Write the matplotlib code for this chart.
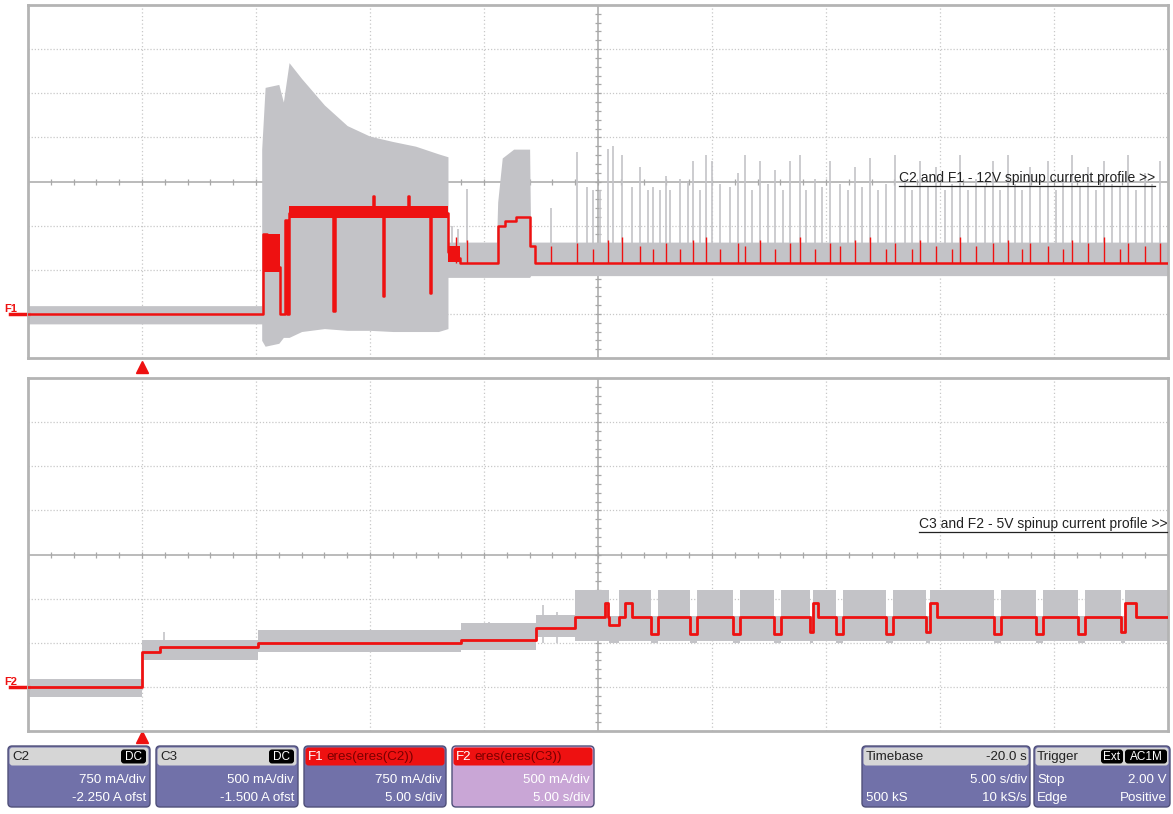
import numpy as np
import matplotlib.pyplot as plt
from matplotlib.patches import FancyBboxPatch

plt.rcParams['font.family'] = ['Liberation Sans', 'DejaVu Sans']

# ---------------- data (time in s, current in A) ----------------
# C2 / F1 : 12V supply current
top_env_t  = [-5, 5.25, 5.25, 5.4, 6.0, 6.2, 6.45, 7.0, 8.0, 9.0, 10.0, 11.0, 12.0, 13.0,
              13.42, 13.42, 15.55, 15.6, 15.8, 16.3, 17.0, 17.05, 45]
top_env_hi = [0.14, 0.14, 2.8, 3.85, 3.9, 3.6, 4.27, 4.0, 3.55, 3.2, 3.02, 2.93, 2.85, 2.72,
              2.67, 1.22, 1.22, 1.9, 2.65, 2.8, 2.8, 1.22, 1.22]
top_env_lo = [-0.17, -0.17, -0.45, -0.55, -0.5, -0.4, -0.4, -0.3, -0.25, -0.28, -0.28, -0.3, -0.3, -0.3,
              -0.25, 0.62, 0.62, 0.62, 0.62, 0.62, 0.62, 0.65, 0.65]

top_gspk_t = [13.60, 13.86, 14.25, 17.94, 19.08, 19.52, 19.78, 20.09, 20.44, 20.66, 21.05, 21.49,
              21.84, 22.19, 22.41, 22.72, 22.98, 23.16, 23.60, 23.95, 24.17, 24.47, 24.74, 25.00,
              25.35, 25.79, 26.14, 26.45, 26.75, 27.11, 27.46, 27.76, 28.11, 28.42, 28.86, 29.12,
              29.52, 29.82, 30.18, 30.61, 30.96, 31.27, 31.58, 31.93, 32.28, 32.63, 33.03, 33.46,
              33.77, 34.12, 34.47, 34.82, 35.22, 35.53, 35.88, 36.23, 36.58, 36.97, 37.32, 37.63,
              37.98, 38.29, 38.60, 38.95, 39.39, 39.74, 40.09, 40.39, 40.79, 41.14, 41.49, 41.84,
              42.19, 42.54, 42.89, 43.25, 43.60, 43.99, 44.30, 44.65]
top_gspk_hi = [1.5, 1.45, 2.13, 1.8, 2.75, 2.15, 2.1, 2.1, 2.8, 2.85, 2.7, 2.15,
               2.5, 2.1, 2.15, 2.1, 2.35, 2.1, 2.3, 2.25, 2.6, 2.1, 2.7, 2.6,
               2.2, 2.15, 2.4, 2.7, 2.1, 2.6, 2.2, 2.45, 2.1, 2.6, 2.7, 2.1,
               2.3, 2.15, 2.6, 2.2, 2.1, 2.5, 2.15, 2.65, 2.1, 2.2, 2.7, 2.3,
               2.1, 2.6, 2.15, 2.5, 2.1, 2.2, 2.7, 2.1, 2.3, 2.15, 2.6, 2.1,
               2.7, 2.2, 2.1, 2.5, 2.15, 2.6, 2.1, 2.3, 2.7, 2.15, 2.5, 2.1,
               2.6, 2.2, 2.15, 2.7, 2.1, 2.4, 2.2, 2.6]

top_red_t = [-5, 5.31, 5.5, 5.75, 6.05, 6.27, 6.36, 6.45, 13.42, 13.62, 13.95, 15.61, 15.9, 16.4, 17.02, 17.24]
top_red_i = [0.0, 1.35, 1.05, 0.8, 0.0, 1.6, 0.0, 1.72, 1.05, 0.95, 0.87, 1.5, 1.58, 1.65, 1.15, 0.87]
top_ev_t0 = [8.38, 10.13, 10.57, 11.67, 12.63]
top_ev_t1 = [8.45, 10.19, 10.63, 11.73, 12.69]
top_ev_i  = [0.05, 2.0, 0.3, 2.0, 0.35]
top_rband_t0 = [5.31, 6.45, 13.42]
top_rband_t1 = [6.05, 13.42, 13.95]
top_rband_lo = [0.72, 1.63, 0.88]
top_rband_hi = [1.35, 1.84, 1.15]

top_rspk_t = [13.75, 14.25, 17.94, 19.08, 19.78, 20.44, 21.05, 21.84, 22.41, 22.98,
              23.60, 24.17, 24.74, 25.35, 26.14, 26.45, 27.11, 27.76, 28.42, 28.86,
              29.52, 30.18, 30.61, 31.27, 31.93, 32.63, 33.03, 33.77, 34.12, 34.82,
              35.53, 35.88, 36.58, 37.32, 37.98, 38.60, 38.95, 39.74, 40.39, 40.79,
              41.49, 42.19, 42.89, 43.25, 43.99, 44.65]
top_rspk_hi = [1.3, 1.25, 1.15, 1.2, 1.1, 1.25, 1.3, 1.15, 1.1, 1.2,
               1.1, 1.25, 1.3, 1.1, 1.2, 1.15, 1.25, 1.1, 1.2, 1.3,
               1.1, 1.2, 1.15, 1.25, 1.3, 1.1, 1.2, 1.1, 1.25, 1.15,
               1.1, 1.3, 1.15, 1.2, 1.25, 1.1, 1.2, 1.15, 1.1, 1.25,
               1.2, 1.3, 1.1, 1.2, 1.15, 1.2]

# C3 / F2 : 5V supply current
bot_red_t = [-5, 0, 0.8, 5.1, 14.0, 17.3, 19.0]
bot_red_i = [0.0, 0.40, 0.45, 0.50, 0.53, 0.67, 0.79]
bot_env_t = [-5, 0, 5.1, 14.0, 17.3, 19.0]
bot_env_hi = [0.09, 0.53, 0.64, 0.72, 0.82, 1.10]
bot_env_lo = [-0.11, 0.30, 0.40, 0.42, 0.57, 0.52]
bot_dip_t0 = [20.50, 22.32, 24.04, 25.92, 27.72, 29.28, 30.44, 32.63, 34.40, 37.37, 39.21, 41.05, 42.94]
bot_dip_t1 = [20.90, 22.62, 24.34, 26.22, 28.02, 29.43, 30.74, 32.93, 34.56, 37.67, 39.51, 41.35, 43.11]
bot_dip_i  = [0.70, 0.60, 0.60, 0.60, 0.60, 0.62, 0.60, 0.60, 0.62, 0.60, 0.60, 0.60, 0.62]
bot_bump_t0 = [20.30, 21.18, 29.43, 34.56, 43.11]
bot_bump_t1 = [20.45, 21.49, 29.65, 34.87, 43.60]
bot_bump_i  = [0.95, 0.95, 0.95, 0.95, 0.95]
bot_gspk_t  = [0.95, 15.2, 17.6, 18.2]
bot_gspk_hi = [0.62, 0.74, 0.93, 0.85]


def stepped(base_t, base_v, t0s, t1s, vs, t_end=45.0):
    pts = sorted(set(base_t) | set(t0s) | set(t1s) | {t_end})
    out = []
    for p in pts:
        v = base_v[np.searchsorted(base_t, p, side='right') - 1]
        for a, b, w in zip(t0s, t1s, vs):
            if a <= p < b:
                v = w
        out.append(v)
    return np.array(pts), np.array(out)


GRAY = '#c3c3c7'
RED = '#ee1111'

fig = plt.figure(figsize=(11.73, 8.14), dpi=100)
fig.patch.set_facecolor('white')

ax1 = fig.add_axes([28 / 1173, 1 - 358 / 814, 1140 / 1173, 353 / 814])
ax2 = fig.add_axes([28 / 1173, 1 - 731 / 814, 1140 / 1173, 353 / 814])


def scope_grid(ax, y0, vdiv, centre):
    ax.set_xlim(-5, 45)
    ax.set_ylim(y0, y0 + 8 * vdiv)
    ax.set_xticks([])
    ax.set_yticks([])
    for s in ax.spines.values():
        s.set_color('#b4b4b4')
        s.set_linewidth(2)
    for k in range(1, 10):
        if k != 5:
            ax.axvline(-5 + 5 * k, color='#c8c8c8', lw=0.9, ls=(0, (1, 2)), zorder=0)
    for k in range(1, 8):
        if k != 4:
            ax.axhline(y0 + k * vdiv, color='#c8c8c8', lw=0.9, ls=(0, (1, 1.5)), zorder=0)
    ax.axvline(20, color='#a8a8a8', lw=1.1, zorder=0)
    ax.axhline(centre, color='#a8a8a8', lw=1.1, zorder=0)
    ax.plot(np.arange(-5, 45.1, 1.0), [centre] * 51, ls='none', marker='|',
            ms=5, color='#a8a8a8', mew=0.9, zorder=0)
    ax.plot([20] * 41, y0 + np.arange(41) * vdiv / 5, ls='none', marker='_',
            ms=5, color='#a8a8a8', mew=0.9, zorder=0)


scope_grid(ax1, -0.75, 0.75, 2.25)
scope_grid(ax2, -0.5, 0.5, 1.5)

# top panel traces
ax1.fill_between(top_env_t, top_env_lo, top_env_hi, color=GRAY, lw=0, zorder=1)
ax1.vlines(top_gspk_t, 0.65, top_gspk_hi, color=GRAY, lw=1.2, zorder=1)
for a, b, lo, hi in zip(top_rband_t0, top_rband_t1, top_rband_lo, top_rband_hi):
    ax1.fill_between([a, b], lo, hi, color=RED, lw=0, zorder=2)
tt, ii = stepped(top_red_t, top_red_i, top_ev_t0, top_ev_t1, top_ev_i)
ax1.step(tt, ii, where='post', color=RED, lw=1.8, zorder=3)
ax1.vlines(top_rspk_t, 0.87, top_rspk_hi, color=RED, lw=1.0, zorder=3)

# bottom panel traces
dip_hi = [0.80] * len(bot_dip_t0)
dip_lo = [0.50] * len(bot_dip_t0)
et, ehi = stepped(bot_env_t, bot_env_hi, bot_dip_t0, bot_dip_t1, dip_hi)
_, elo = stepped(bot_env_t, bot_env_lo, bot_dip_t0, bot_dip_t1, dip_lo)
ax2.fill_between(et, elo, ehi, step='post', color=GRAY, lw=0, zorder=1)
ax2.vlines(bot_gspk_t, 0.5, bot_gspk_hi, color=GRAY, lw=1.2, zorder=1)
bt, bi = stepped(bot_red_t, bot_red_i, bot_dip_t0 + bot_bump_t0,
                 bot_dip_t1 + bot_bump_t1, bot_dip_i + bot_bump_i)
ax2.step(bt, bi, where='post', color=RED, lw=2.0, zorder=3)

# trace markers and trigger arrows
for ax, name in ((ax1, 'F1'), (ax2, 'F2')):
    tr = ax.get_yaxis_transform()
    ax.plot([-0.016, 0], [0, 0], transform=tr, clip_on=False, color=RED, lw=2.5)
    ax.text(-0.021, 0, name, transform=tr, color=RED, fontsize=8, fontweight='bold',
            va='bottom', ha='left')
ax1.plot([0], [-0.026], transform=ax1.get_xaxis_transform(), marker='^', ms=8,
         color=RED, clip_on=False)
ax2.plot([0], [-0.016], transform=ax2.get_xaxis_transform(), marker='^', ms=8,
         color=RED, clip_on=False)

lab1 = ax1.text(0.9886, 0.499, 'C2 and F1 - 12V spinup current profile >>', transform=ax1.transAxes,
                ha='right', va='baseline', fontsize=10, color='#222222')
lab2 = ax2.text(0.9995, 0.575, 'C3 and F2 - 5V spinup current profile >>', transform=ax2.transAxes,
                ha='right', va='baseline', fontsize=10, color='#222222')

# ---------------- info boxes along the bottom ----------------
ov = fig.add_axes([0, 0, 1, 1])
ov.set_xlim(0, 1173)
ov.set_ylim(814, 0)
ov.axis('off')

BODY = '#7171a9'


def box(x0, x1, head, body=BODY, head_fc='#d6d6d6'):
    ov.add_patch(FancyBboxPatch((x0, 746), x1 - x0, 61, boxstyle='round,pad=0,rounding_size=4',
                                fc=body, ec='#50507a', lw=1))
    ov.add_patch(FancyBboxPatch((x0 + 1.5, 747.5), x1 - x0 - 3, 18, boxstyle='round,pad=0,rounding_size=3',
                                fc=head_fc, ec='none'))


def badge(x0, x1, s):
    ov.add_patch(FancyBboxPatch((x0, 749.5), x1 - x0, 14, boxstyle='round,pad=0,rounding_size=3',
                                fc='black', ec='none'))
    ov.text((x0 + x1) / 2, 757, s, color='white', fontsize=8.5, ha='center', va='center')


TXT = dict(fontsize=9.6, va='center')
box(8, 150, 'C2')
ov.text(12, 757, 'C2', color='#222222', **TXT)
badge(121, 146, 'DC')
ov.text(146, 780, '750 mA/div', color='white', ha='right', **TXT)
ov.text(146, 798, '-2.250 A ofst', color='white', ha='right', **TXT)

box(156, 298, 'C3')
ov.text(160, 757, 'C3', color='#222222', **TXT)
badge(269, 294, 'DC')
ov.text(294, 780, '500 mA/div', color='white', ha='right', **TXT)
ov.text(294, 798, '-1.500 A ofst', color='white', ha='right', **TXT)

box(304, 446, 'F1', head_fc='#ee1111')
ov.text(308, 757, 'F1', color='white', **TXT)
ov.text(326, 757, 'eres(eres(C2))', color='#7a0000', **TXT)
ov.text(442, 780, '750 mA/div', color='white', ha='right', **TXT)
ov.text(442, 798, '5.00 s/div', color='white', ha='right', **TXT)

box(452, 594, 'F2', body='#c9a6d6', head_fc='#ee1111')
ov.text(456, 757, 'F2', color='white', **TXT)
ov.text(474, 757, 'eres(eres(C3))', color='#7a0000', **TXT)
ov.text(590, 780, '500 mA/div', color='white', ha='right', **TXT)
ov.text(590, 798, '5.00 s/div', color='white', ha='right', **TXT)

box(862, 1030, 'Timebase')
ov.text(866, 757, 'Timebase', color='#222222', **TXT)
ov.text(1027, 757, '-20.0 s', color='#222222', ha='right', **TXT)
ov.text(1027, 780, '5.00 s/div', color='white', ha='right', **TXT)
ov.text(866, 798, '500 kS', color='white', **TXT)
ov.text(1027, 798, '10 kS/s', color='white', ha='right', **TXT)

box(1034, 1170, 'Trigger')
ov.text(1037, 757, 'Trigger', color='#222222', **TXT)
badge(1101, 1123, 'Ext')
badge(1125, 1167, 'AC1M')
ov.text(1037, 780, 'Stop', color='white', **TXT)
ov.text(1167, 780, '2.00 V', color='white', ha='right', **TXT)
ov.text(1037, 798, 'Edge', color='white', **TXT)
ov.text(1167, 798, 'Positive', color='white', ha='right', **TXT)

# underline the two captions
fig.canvas.draw()
r = fig.canvas.get_renderer()
for lab in (lab1, lab2):
    bb = lab.get_window_extent(r)
    y = 814 - bb.y0 + 1
    ov.plot([bb.x0, bb.x1], [y, y], color='#222222', lw=0.9)

fig.savefig('out.png', dpi=100)
